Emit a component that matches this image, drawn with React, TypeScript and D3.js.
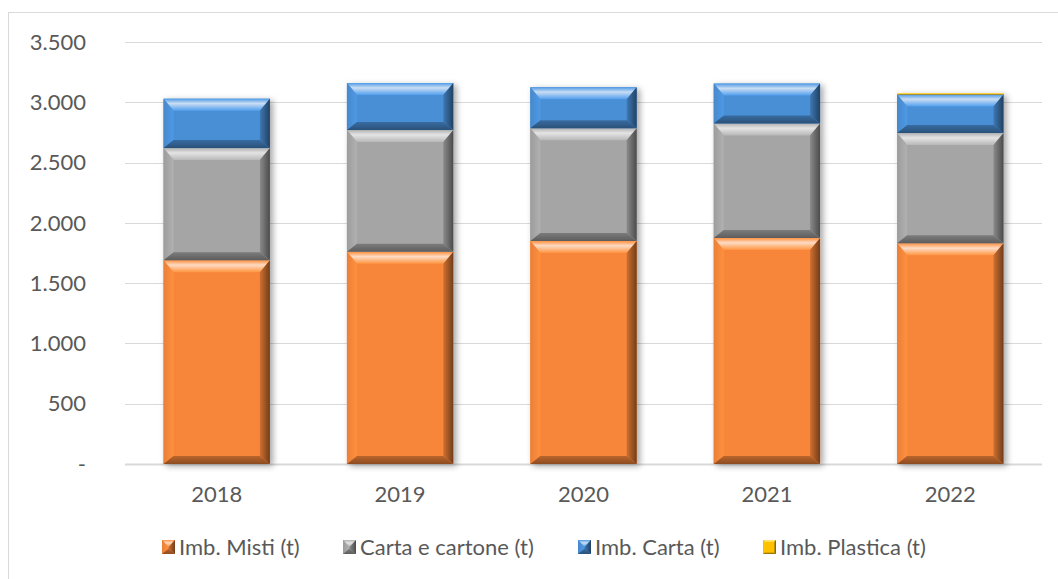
import React from "react";
import * as d3 from "d3";

const years = ["2018", "2019", "2020", "2021", "2022"];
const seriesNames = ["Imb. Misti (t)", "Carta e cartone (t)", "Imb. Carta (t)", "Imb. Plastica (t)"];
const imbMisti = [1690, 1760, 1850, 1875, 1830];
const cartaCartone = [930, 1010, 935, 950, 915];
const imbCarta = [410, 390, 340, 330, 320];
const imbPlastica = [0, 0, 0, 0, 8];
const seriesColors = ["#F7863A", "#A5A5A5", "#4A8FD6", "#FFC000"];
const yTicks = [0, 500, 1000, 1500, 2000, 2500, 3000, 3500];

const W = 1058;
const H = 579;
const FONT = "Lato, 'Open Sans', sans-serif";
const TEXT = "#595959";
const FS = 22;

function fmt(v: number) {
  if (v === 0) return "-";
  return d3.format(",")(v).replace(/,/g, ".");
}

function Bevel({ x, y, w, h, si, b0, bt }: { x: number; y: number; w: number; h: number; si: number; b0: number; bt: number }) {
  if (h <= 0 || w <= 0) return null;
  const b = Math.min(b0, h / 2, w / 2);
  const t = Math.min(bt, h / 2);
  const bb = Math.min(b0 * 0.8, h / 2);
  const base = seriesColors[si];
  return (
    <g>
      <rect x={x} y={y} width={w} height={h} fill={base} />
      <polygon
        points={`${x},${y} ${x + w},${y} ${x + w - b},${y + t} ${x + b},${y + t}`}
        fill={`url(#top${si})`}
      />
      <polygon
        points={`${x},${y} ${x + b},${y + t} ${x + b},${y + h - bb} ${x},${y + h}`}
        fill={`url(#left${si})`}
      />
      <polygon
        points={`${x + w},${y} ${x + w},${y + h} ${x + w - b},${y + h - bb} ${x + w - b},${y + t}`}
        fill={`url(#right${si})`}
      />
      <polygon
        points={`${x},${y + h} ${x + w},${y + h} ${x + w - b},${y + h - bb} ${x + b},${y + h - bb}`}
        fill={`url(#bottom${si})`}
      />
    </g>
  );
}

export default function App() {
  const series = [imbMisti, cartaCartone, imbCarta, imbPlastica];
  const plotL = 125;
  const plotR = 1042;
  const x = d3.scaleBand<string>().domain(years).range([plotL, plotR]).paddingInner(0.42).paddingOuter(0.21);
  const y = d3.scaleLinear().domain([0, 3500]).range([464, 42]);

  const table = years.map((yr, i) => {
    const row: any = { year: yr };
    seriesNames.forEach((n, s) => (row[n] = series[s][i]));
    return row;
  });
  const stack = d3.stack<any>().keys(seriesNames)(table);

  const legendX = [162, 343, 578, 763];

  return (
    <svg width={W} height={H} style={{ position: "absolute", left: 0, top: 0, background: "#fff" }}>
      <defs>
        {seriesColors.map((c, si) => {
          const col = d3.color(c)!;
          return (
            <React.Fragment key={si}>
              <linearGradient id={`top${si}`} x1="0" y1="0" x2="0" y2="1">
                <stop offset="0%" stopColor={col.brighter(0.2).formatHex()} />
                <stop offset="40%" stopColor={d3.interpolateRgb(c, "#ffffff")(0.7)} />
                <stop offset="100%" stopColor={col.brighter(0.3).formatHex()} />
              </linearGradient>
              <linearGradient id={`left${si}`} x1="0" y1="0" x2="1" y2="0">
                <stop offset="0%" stopColor={col.darker(0.15).formatHex()} />
                <stop offset="100%" stopColor={col.brighter(0.2).formatHex()} />
              </linearGradient>
              <linearGradient id={`right${si}`} x1="0" y1="0" x2="1" y2="0">
                <stop offset="0%" stopColor={col.darker(0.5).formatHex()} />
                <stop offset="100%" stopColor={col.darker(2.2).formatHex()} />
              </linearGradient>
              <linearGradient id={`bottom${si}`} x1="0" y1="0" x2="0" y2="1">
                <stop offset="0%" stopColor={col.darker(0.8).formatHex()} />
                <stop offset="100%" stopColor={col.darker(1.6).formatHex()} />
              </linearGradient>
            </React.Fragment>
          );
        })}
        <filter id="shadow" x="-20%" y="-5%" width="140%" height="115%">
          <feDropShadow dx="3" dy="2" stdDeviation="3" floodColor="#000" floodOpacity="0.35" />
        </filter>
      </defs>

      {/* chart frame */}
      <rect x={8.5} y={12.5} width={1100} height={600} fill="none" stroke="#d9d9d9" strokeWidth={1} />

      {/* gridlines */}
      {yTicks.map((t) => (
        <line
          key={t}
          x1={plotL}
          x2={plotR}
          y1={Math.round(y(t)) + 0.5}
          y2={Math.round(y(t)) + 0.5}
          stroke="#d9d9d9"
          strokeWidth={t === 0 ? 2 : 1}
        />
      ))}

      {/* y labels */}
      {yTicks.map((t) => (
        <text
          key={t}
          x={86}
          y={y(t)}
          dy="0.35em"
          textAnchor="end"
          fontFamily={FONT}
          fontSize={FS}
          fill={TEXT}
        >
          {fmt(t)}
        </text>
      ))}

      {/* bars */}
      {years.map((yr, i) => (
        <g key={yr} filter="url(#shadow)">
          {stack.map((layer, si) => {
            const d = layer[i];
            const y0 = y(d[0]);
            const y1 = y(d[1]);
            return (
              <Bevel key={si} x={x(yr)!} y={y1} w={x.bandwidth()} h={y0 - y1} si={si} b0={10} bt={12} />
            );
          })}
        </g>
      ))}

      {/* x labels */}
      {years.map((yr) => (
        <text
          key={yr}
          x={x(yr)! + x.bandwidth() / 2}
          y={502}
          textAnchor="middle"
          fontFamily={FONT}
          fontSize={FS}
          fill={TEXT}
        >
          {yr}
        </text>
      ))}

      {/* legend */}
      {seriesNames.map((n, si) => (
        <g key={n}>
          <Bevel x={legendX[si]} y={540} w={13} h={14} si={si} b0={si === 3 ? 2 : 6.5} bt={si === 3 ? 2 : 7} />
          <text x={legendX[si] + 17} y={547} dy="0.35em" fontFamily={FONT} fontSize={FS} fill={TEXT}>
            {n}
          </text>
        </g>
      ))}
    </svg>
  );
}
